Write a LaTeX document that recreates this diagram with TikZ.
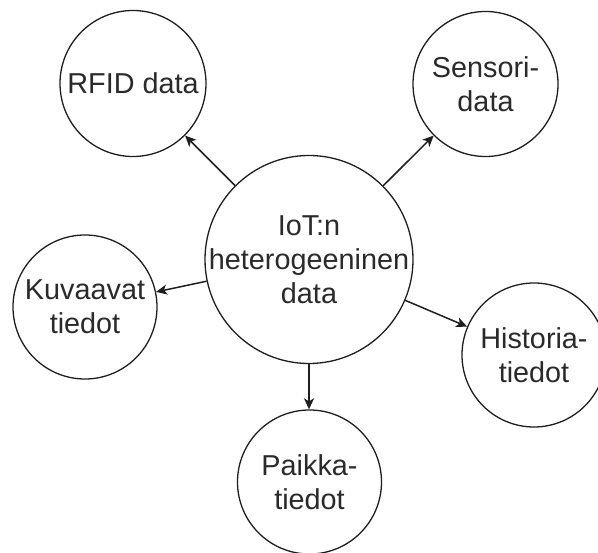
\documentclass[tikz,border=0pt]{standalone}
\usepackage{fontspec}
\setmainfont{Liberation Sans}
\usetikzlibrary{arrows.meta}
\definecolor{ink}{HTML}{1E1E1E}
\definecolor{txtgray}{HTML}{2A2A2A}
\begin{document}
\begin{tikzpicture}[x=1pt,y=-1pt,
  bubble/.style={circle,draw=ink,line width=1.3pt,fill=white,inner sep=0pt,minimum size=#1},
  bubble/.default=145pt,
  label text/.style={align=center,inner sep=0pt,text=txtgray,
    font=\fontsize{28.8}{33.8}\selectfont},
  link/.style={draw=ink,line width=1.5pt,
    -{Stealth[length=11pt,width=10pt,inset=3pt]}}]
  % page frame; the right-hand bubble runs off the edge
  \clip (0,0) rectangle (598,553);
  \useasboundingbox (0,0) rectangle (598,553);

  % bubbles
  \node[bubble=208pt] (iot)  at (309,259.5) {};
  \node[bubble=146pt] (rfid) at (133,83.5) {};
  \node[bubble=145pt] (sens) at (485.5,84) {};
  \node[bubble=144pt] (kuva) at (85,307) {};
  \node[bubble=144pt] (hist) at (534,355) {};
  \node[bubble=144pt] (paik) at (309.5,482) {};

  % captions
  \node[label text] (iotT)  at (iot)  {IoT:n\\heterogeeninen\\data};
  \node[label text] (rfidT) at (rfid) {RFID data};
  \node[label text] (sensT) at (sens) {Sensori-\\data};
  \node[label text] (kuvaT) at (kuva) {Kuvaavat\\tiedot};
  \node[label text] (histT) at (hist) {Historia-\\tiedot};
  \node[label text] (paikT) at (paik) {Paikka-\\tiedot};

  % connectors from the central bubble
  \draw[link] (iot) -- (rfid);
  \draw[link] (iot) -- (sens);
  \draw[link] (iot) -- (kuva);
  \draw[link] (iot) -- (hist);
  \draw[link] (iot.south) -- (iot.south |- paik.north);
\end{tikzpicture}
\end{document}
